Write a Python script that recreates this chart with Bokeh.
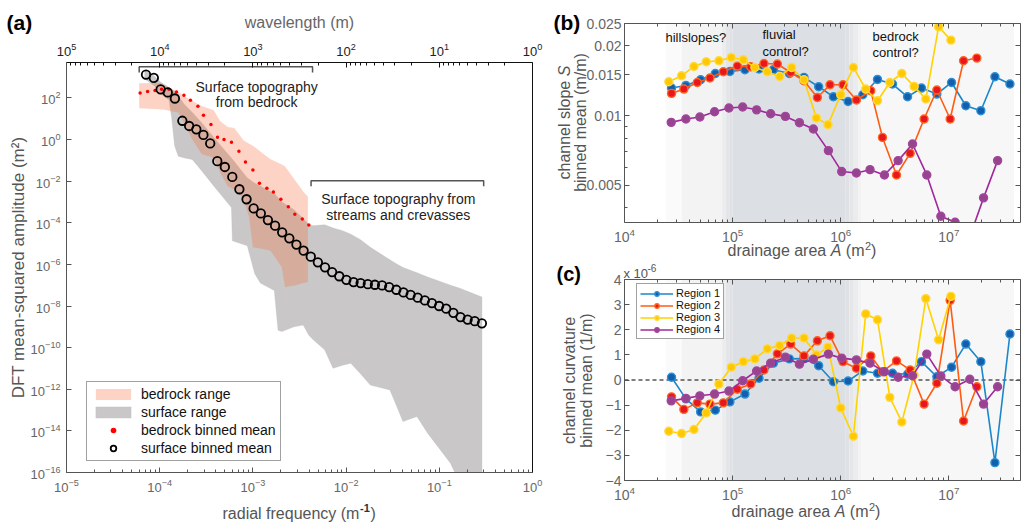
from math import pi, log10
from bokeh.plotting import figure
from bokeh.models import (Range1d, LogScale, LogAxis, LinearAxis, FixedTicker, Label,
                          Legend, LegendItem, CustomJSTickFormatter)
from bokeh.layouts import row, column
from bokeh.embed import file_html
from bokeh.resources import INLINE

FONT = "Liberation Sans"

# ---------------- Panel (a) data (log10 values) ----------------
surf_log_freq = [-4.147, -4.063, -3.990, -3.914, -3.837, -3.757, -3.684, -3.607, -3.531, -3.458,
                 -3.382, -3.301, -3.221, -3.145, -3.068, -2.992, -2.915, -2.839, -2.762, -2.686,
                 -2.609, -2.533, -2.456, -2.379, -2.303, -2.226, -2.150, -2.073, -1.997, -1.920,
                 -1.844, -1.767, -1.691, -1.614, -1.538, -1.461, -1.385, -1.308, -1.232, -1.155,
                 -1.079, -1.002, -0.926, -0.849, -0.773, -0.696, -0.620, -0.543]
surf_log_amp = [3.12, 2.96, 2.41, 2.26, 1.97, 0.90, 0.65, 0.49, 0.22, -0.19,
                -1.04, -1.32, -1.80, -2.39, -2.87, -3.31, -3.55, -3.87, -4.14, -4.46,
                -4.75, -5.05, -5.34, -5.63, -5.90, -6.14, -6.37, -6.57, -6.74, -6.85,
                -6.90, -6.95, -6.98, -7.01, -7.09, -7.22, -7.35, -7.47, -7.60, -7.73,
                -7.86, -8.00, -8.13, -8.33, -8.53, -8.65, -8.73, -8.83]

bed_log_freq = [-4.21, -4.13, -4.05, -3.98, -3.90, -3.82, -3.74, -3.67, -3.59, -3.53,
                -3.45, -3.38, -3.31, -3.23, -3.15, -3.08, -3.00, -2.93, -2.85, -2.78,
                -2.70, -2.62, -2.55, -2.47, -2.40]
bed_log_amp = [2.23, 2.31, 2.36, 2.42, 2.41, 2.28, 2.13, 1.89, 1.60, 1.16,
               0.72, 0.11, 0.00, -0.13, -0.56, -1.08, -1.47, -2.10, -2.34, -2.52,
               -2.87, -3.23, -3.59, -3.82, -4.11]

bed_band_log_freq = [-4.22, -4.00, -3.95, -3.80, -3.74, -3.65, -3.55, -3.42, -3.35, -3.27,
                     -3.20, -3.10, -3.04, -3.00, -2.90, -2.81, -2.69, -2.655, -2.54, -2.46, -2.41]
bed_band_upper = [2.70, 2.72, 2.60, 2.28, 2.10, 1.85, 1.61, 1.40, 0.88, 0.60,
                  0.55, -0.05, -0.20, -0.30, -0.65, -0.95, -1.20, -1.30, -2.00, -2.50, -2.75]
bed_band_lower = [1.50, 1.45, 1.43, 1.30, 0.80, 0.00, -0.70, -0.88, -1.60, -2.25,
                  -2.40, -2.85, -3.75, -5.18, -5.25, -5.34, -6.14, -7.09, -7.00, -6.90, -6.85]

surf_band_log_freq = [-4.16, -4.06, -3.99, -3.90, -3.87, -3.84, -3.80, -3.74, -3.65, -3.55,
                      -3.42, -3.23, -3.22, -3.06, -2.98, -2.92, -2.77, -2.73, -2.69, -2.56,
                      -2.46, -2.40, -2.35, -2.23, -2.14, -2.04, -1.95, -1.85, -1.74, -1.53,
                      -1.47, -1.39, -1.24, -1.125, -0.88, -0.78, -0.543]
surf_band_upper = [3.30, 3.05, 2.75, 2.50, 2.40, 2.30, 2.10, 1.70, 1.30, 0.80,
                   0.10, -0.90, -0.95, -1.85, -2.10, -2.25, -2.60, -2.80, -3.00, -3.37,
                   -3.80, -4.09, -4.14, -4.10, -4.25, -4.38, -4.55, -4.80, -5.18, -5.78,
                   -5.95, -6.15, -6.40, -6.61, -7.00, -7.15, -7.57]
surf_band_lower = [2.90, 2.60, 2.20, 1.90, 1.00, -0.30, -0.80, -0.88, -0.96, -1.50,
                   -2.23, -3.27, -4.86, -5.10, -6.45, -6.90, -7.25, -9.16, -9.23, -9.00,
                   -8.91, -9.40, -9.63, -10.10, -10.99, -10.85, -10.75, -11.23, -11.80, -12.03,
                   -12.67, -13.55, -13.31, -14.11, -15.55, -16.50, -16.50]

# ---------------- Panels (b) and (c) data ----------------
region_names = ["Region 1", "Region 2", "Region 3", "Region 4"]
r1_log_area = [4.435, 4.568, 4.704, 4.840, 4.975, 5.114, 5.244, 5.377, 5.525, 5.660, 5.796, 5.932,
               6.068, 6.204, 6.340, 6.479, 6.618, 6.747, 6.889, 7.025, 7.157, 7.296, 7.426, 7.565]
r2_log_area = [4.435, 4.549, 4.673, 4.790, 4.914, 5.044, 5.167, 5.290, 5.414, 5.537, 5.660, 5.784,
               5.901, 6.021, 6.145, 6.278, 6.386, 6.516, 6.642, 6.771, 6.889, 7.012, 7.136, 7.259]
r3_log_area = [4.410, 4.528, 4.642, 4.756, 4.873, 4.988, 5.099, 5.206, 5.321, 5.435, 5.546, 5.660,
               5.775, 5.882, 6.000, 6.117, 6.231, 6.340, 6.454, 6.565, 6.679, 6.787, 6.905, 7.019]
r4_log_area = [4.432, 4.568, 4.697, 4.833, 4.966, 5.093, 5.222, 5.352, 5.488, 5.618, 5.747, 5.886,
               6.009, 6.145, 6.271, 6.404, 6.531, 6.664, 6.796, 6.926, 7.058, 7.194, 7.321, 7.451]

r1_slope = [0.01316, 0.01351, 0.01429, 0.01521, 0.01552, 0.01579, 0.01590, 0.01579, 0.01521, 0.01463,
            0.01334, 0.01207, 0.01152, 0.01232, 0.01434, 0.01370, 0.01207, 0.01316, 0.01240, 0.01391,
            0.01104, 0.01051, 0.01473, 0.01370]
r2_slope = [0.01248, 0.01303, 0.01391, 0.01454, 0.01548, 0.01637, 0.01626, 0.01680, 0.01671, 0.01537,
            0.01415, 0.01199, 0.01360, 0.01360, 0.01169, 0.01282, 0.00806, 0.00555, 0.00688, 0.00968,
            0.01291, 0.00968, 0.01726, 0.01773]
r3_slope = [0.01401, 0.01487, 0.01631, 0.01709, 0.01726, 0.01783, 0.01743, 0.01615, 0.01548, 0.01477,
            0.01615, 0.01429, 0.00977, 0.00915, 0.01232, 0.01615, 0.01303, 0.01160, 0.01391, 0.01521,
            0.01338, 0.01180, 0.02419, 0.02120]
r4_slope = [0.00936, 0.00968, 0.00987, 0.01040, 0.01080, 0.01090, 0.01060, 0.01020, 0.00993, 0.00933,
            0.00876, 0.00707, 0.00574, 0.00566, 0.00585, 0.00555, 0.00640, 0.00755, 0.00555, 0.00368,
            0.00347, 0.00300, 0.00442, 0.00640]

# curvature in units of 1e-6 1/m
r1_curv = [0.11, -0.75, -1.27, -1.20, -0.87, -0.56, 0.07, 0.67, 0.84, 0.85, 0.57, -0.07,
           -0.04, 0.36, 0.27, 0.27, 0.23, 0.73, 0.13, 0.51, 1.43, 0.73, -3.29, 1.83]
r2_curv = [-0.67, -1.17, -0.91, -0.96, -0.91, -0.37, -0.16, 0.40, 1.04, 1.43, 0.96, 1.56,
           1.76, 0.73, 0.47, 0.96, 0.33, 0.76, 0.40, -0.96, -0.13, 3.17, -1.63, -0.27]
r3_curv = [-2.04, -2.13, -1.97, -1.31, -0.16, 0.51, 0.73, 0.84, 1.24, 1.37, 1.67, 1.67,
           1.00, 1.31, -1.11, -2.24, 2.63, 2.40, -0.69, -1.67, 0.20, 3.24, 1.60, 3.33]
r4_curv = [-0.83, -0.73, -0.63, -0.56, -0.44, -0.03, 0.36, 0.67, 0.91, 0.63, 0.83, 1.03,
           0.87, 0.80, 0.67, 0.33, 0.11, 0.17, 1.03, 0.16, -0.27, 0.03, -0.96, -0.27]

# ---------------- styles ----------------
line_colors = ["#1b87c9", "#ff5b12", "#ffd200", "#a0289c"]
fill_colors = ["#135fae", "#e8161d", "#ffc800", "#97448f"]
edge_colors = ["#2a91d6", "#ff6420", "#ffd93d", "#a3459e"]
AX_GRAY = "#555555"
TXT_GRAY = "#555555"


def pw(v):
    return [10.0 ** x for x in v]


class LogMap:
    """pixel (measured in the direction of increasing data) -> data value"""
    def __init__(self, lo, hi, p_lo, p_hi):
        self.l0 = log10(lo)
        self.p0 = p_lo
        self.k = (p_hi - p_lo) / (log10(hi) - log10(lo))

    def __call__(self, p):
        return 10.0 ** (self.l0 + (p - self.p0) / self.k)


class LinMap:
    def __init__(self, lo, hi, p_lo, p_hi):
        self.v0 = lo
        self.p0 = p_lo
        self.k = (p_hi - p_lo) / (hi - lo)

    def __call__(self, p):
        return self.v0 + (p - self.p0) / self.k


def style_axis(ax, color=AX_GRAY, label_color="#666666", size="13px", standoff=5, labels=True):
    ax.axis_line_color = color
    ax.axis_line_width = 1
    ax.major_tick_line_color = color
    ax.minor_tick_line_color = color
    ax.major_tick_in = 5
    ax.major_tick_out = 0
    ax.minor_tick_in = 3
    ax.minor_tick_out = 0
    ax.major_label_text_font = FONT
    ax.major_label_text_color = label_color
    ax.major_label_text_font_size = size
    ax.major_label_standoff = standoff
    if not labels:
        ax.formatter = CustomJSTickFormatter(code="return '';")


def add_label(p, x, y, text, size="14px", color="#222222", align="left",
              baseline="middle", angle=0.0, style="normal"):
    p.add_layout(Label(x=x, y=y, text=text, text_font=FONT, text_font_size=size,
                       text_color=color, text_align=align, text_baseline=baseline,
                       angle=angle, text_font_style=style))


decade_minor = lambda lo, hi: [k * 10.0 ** e for e in range(lo, hi) for k in range(2, 10)]

# ======================= Panel (a) =======================
WA, HA = 548, 522
A_XLO, A_XHI = 1e-5, 1.0
A_YLO, A_YHI = 1e-16, 10 ** 3.7
amx = LogMap(A_XLO, A_XHI, 66, 532)
amy = LogMap(A_YLO, A_YHI, HA - 472, HA - 62)


def a_xy(px, py):
    return amx(px), amy(HA - py)


pa = figure(width=WA, height=HA, x_axis_type="log", y_axis_type="log",
            x_range=Range1d(amx(0), amx(WA)), y_range=Range1d(amy(0), amy(HA)),
            x_axis_location=None, y_axis_location=None, min_border=0,
            output_backend="svg", toolbar_location=None)
pa.grid.visible = False
pa.outline_line_color = None

sx = pw(surf_band_log_freq)
surf_patch = pa.patch(sx + sx[::-1], pw(surf_band_upper) + pw(surf_band_lower)[::-1],
                      fill_color="#c9c7c7", line_color="#bdbbbd", line_alpha=0.6, line_width=0.6)
bx = pw(bed_band_log_freq)
bed_patch = pa.patch(bx + bx[::-1], pw(bed_band_upper) + pw(bed_band_lower)[::-1],
                     fill_color="#f56e3b", fill_alpha=0.3, line_color=None)
bed_pts = pa.scatter(pw(bed_log_freq), pw(bed_log_amp), marker="circle", size=3.5,
                     fill_color="#ff0000", line_color=None)
surf_pts = pa.scatter(pw(surf_log_freq), pw(surf_log_amp), marker="circle", size=8.5,
                      fill_color=None, line_color="black", line_width=1.8)
# white mask below the axes box
pa.quad(left=[amx(0)], right=[amx(WA)], bottom=[amy(0)], top=[A_YLO], fill_color="white", line_color=None)

# brackets
br1_f = (10 ** -4.22, 10 ** -2.36)
br1_a = (10 ** 3.22, 10 ** 3.5)
br2_f = (10 ** -2.376, 10 ** -0.524)
br2_a = (10 ** -2.25, 10 ** -1.98)
for (f0, f1), (a0, a1) in ((br1_f, br1_a), (br2_f, br2_a)):
    pa.line([f0, f0, f1, f1], [a0, a1, a1, a0], line_color="#555555", line_width=1.5)

# axes
ax_b = LogAxis(fixed_location=A_YLO, bounds=(A_XLO, A_XHI),
               ticker=FixedTicker(ticks=[10.0 ** e for e in range(-5, 1)], minor_ticks=decade_minor(-5, 0)))
style_axis(ax_b, standoff=6)
pa.add_layout(ax_b, "below")
ax_l = LogAxis(fixed_location=A_XLO, bounds=(A_YLO, A_YHI),
               ticker=FixedTicker(ticks=[10.0 ** e for e in range(-16, 3, 2)]))
style_axis(ax_l, standoff=6)
pa.add_layout(ax_l, "left")
pa.extra_x_ranges = {"wl": Range1d(1.0 / amx(0), 1.0 / amx(WA))}
pa.extra_x_scales = {"wl": LogScale()}
ax_t = LogAxis(x_range_name="wl", fixed_location=A_YHI, bounds=(1.0, 1e5),
               ticker=FixedTicker(ticks=[10.0 ** e for e in range(0, 6)], minor_ticks=decade_minor(0, 5)))
style_axis(ax_t, color="#111111", label_color="#222222", standoff=7)
pa.add_layout(ax_t, "above")
ax_r = LogAxis(fixed_location=A_XHI, bounds=(A_YLO, A_YHI), ticker=FixedTicker(ticks=[]))
style_axis(ax_r, color="#111111", labels=False)
pa.add_layout(ax_r, "right")

add_label(pa, 10 ** -2.96, 10 ** 2.53, "Surface topography", align="center")
add_label(pa, 10 ** -2.96, 10 ** 1.78, "from bedrock", align="center")
add_label(pa, 10 ** -1.44, 10 ** -2.84, "Surface topography from", align="center")
add_label(pa, 10 ** -1.44, 10 ** -3.62, "streams and crevasses", align="center")

x, y = a_xy(6, 22)
add_label(pa, x, y, "(a)", size="21px", color="black", style="bold")
x, y = a_xy(299, 22)
add_label(pa, x, y, "wavelength (m)", size="16px", color="#666666", align="center")
# "radial frequency (m^-1)"
x, y = a_xy(222, 513)
add_label(pa, x, y, "radial frequency (m", size="16px", color=TXT_GRAY)
x, y = a_xy(359.5, 507)
add_label(pa, x, y, "-1", size="11px", color="#333333", style="bold")
x, y = a_xy(370, 513)
add_label(pa, x, y, ")", size="16px", color=TXT_GRAY)
x, y = a_xy(18, 267)
add_label(pa, x, y, "DFT mean-squared amplitude (m\u00b2)", size="17px", color=TXT_GRAY,
          align="center", angle=pi / 2)

leg_a = Legend(items=[LegendItem(label="bedrock range", renderers=[bed_patch]),
                      LegendItem(label="surface range", renderers=[surf_patch]),
                      LegendItem(label="bedrock binned mean", renderers=[bed_pts]),
                      LegendItem(label="surface binned mean", renderers=[surf_pts])],
               location=(86, HA - 461), label_text_font=FONT, label_text_font_size="14px",
               label_text_color="#111111", glyph_width=44, glyph_height=14, label_height=14,
               spacing=2, padding=4, margin=0, label_standoff=6, border_line_color="#444444",
               border_line_width=1.5, background_fill_alpha=1.0)
pa.add_layout(leg_a)

# ======================= Panels (b), (c) =======================
OFFX = 548
WB, HB = 473, 260
WC, HC = 473, 262
B_XLO, B_XHI = 1e4, 4.6e7
B_YLO, B_YHI = 0.00346, 0.025
C_YLO, C_YHI = -4, 4
bmx = LogMap(B_XLO, B_XHI, 624 - OFFX, 1020 - OFFX)
bmy = LogMap(B_YLO, B_YHI, HB - 222, HB - 23)
cmy = LinMap(C_YLO, C_YHI, HC - (480 - HB), HC - (279 - HB))


def b_xy(px, py):
    return bmx(px - OFFX), bmy(HB - py)


def c_xy(px, py):
    return bmx(px - OFFX), cmy(HC - (py - HB))


xt_major = [1e4, 1e5, 1e6, 1e7]
xt_minor = decade_minor(4, 8)
yb_major = [0.005, 0.01, 0.015, 0.02, 0.025]
yb_minor = [0.004, 0.006, 0.007, 0.008, 0.009]
yc_major = [-4, -3, -2, -1, 0, 1, 2, 3, 4]

# background shading (edges in drainage area, colours)
band_edges = [2.4e4, 3.4e4, 8.0e4, 8.6e4, 9.3e4, 1.0e5, 1.1e6, 1.2e6, 1.32e6, 1.45e6, 1.55e6, 4.0e7]
band_colors = ["#fafafa", "#f3f3f3", "#ebecee", "#e3e5e8", "#dfe1e5", "#dcdfe3",
               "#dfe1e5", "#e4e6e8", "#ebecee", "#f2f2f3", "#f7f7f7"]

pb = figure(width=WB, height=HB, x_axis_type="log", y_axis_type="log",
            x_range=Range1d(bmx(0), bmx(WB)), y_range=Range1d(bmy(0), bmy(HB)),
            x_axis_location=None, y_axis_location=None, min_border=0,
            output_backend="svg", toolbar_location=None)
pc = figure(width=WC, height=HC, x_axis_type="log",
            x_range=Range1d(bmx(0), bmx(WC)), y_range=Range1d(cmy(0), cmy(HC)),
            x_axis_location=None, y_axis_location=None, min_border=0,
            output_backend="svg", toolbar_location=None)

for p, ylo, yhi in ((pb, B_YLO, B_YHI), (pc, C_YLO, C_YHI)):
    p.grid.visible = False
    p.outline_line_color = None
    p.quad(left=band_edges[:-1], right=band_edges[1:], bottom=ylo, top=yhi,
           fill_color=band_colors, line_color=None)

pc.segment(x0=[B_XLO], y0=[0], x1=[B_XHI], y1=[0], line_color="black", line_width=1.2, line_dash="4 3")

areas = [r1_log_area, r2_log_area, r3_log_area, r4_log_area]
slopes = [r1_slope, r2_slope, r3_slope, r4_slope]
curvs = [r1_curv, r2_curv, r3_curv, r4_curv]
leg_items = []
for i in range(4):
    xs_ = pw(areas[i])
    pb.line(xs_, slopes[i], line_color=line_colors[i], line_width=1.6)
    pb.scatter(xs_, slopes[i], marker="circle", size=8, fill_color=fill_colors[i],
               line_color=edge_colors[i], line_width=1.4)
    lr = pc.line(xs_, curvs[i], line_color=line_colors[i], line_width=1.6)
    sr = pc.scatter(xs_, curvs[i], marker="circle", size=8, fill_color=fill_colors[i],
                    line_color=edge_colors[i], line_width=1.4)
    leg_items.append(LegendItem(label=region_names[i], renderers=[lr, sr]))

# masks outside the axes boxes (clip overflow of lines)
pb.quad(left=[bmx(0)], right=[bmx(WB)], bottom=[bmy(0)], top=[B_YLO], fill_color="white", line_color=None)
pb.quad(left=[bmx(0)], right=[bmx(WB)], bottom=[B_YHI], top=[bmy(HB)], fill_color="white", line_color=None)

for p, ylo, yhi, mk, yticker in (
        (pb, B_YLO, B_YHI, LogAxis, FixedTicker(ticks=yb_major, minor_ticks=yb_minor)),
        (pc, C_YLO, C_YHI, LinearAxis, FixedTicker(ticks=yc_major))):
    axb = LogAxis(fixed_location=ylo, bounds=(B_XLO, B_XHI),
                  ticker=FixedTicker(ticks=xt_major, minor_ticks=xt_minor))
    style_axis(axb, size="14px", standoff=5)
    p.add_layout(axb, "below")
    axt = LogAxis(fixed_location=yhi, bounds=(B_XLO, B_XHI),
                  ticker=FixedTicker(ticks=xt_major, minor_ticks=xt_minor))
    style_axis(axt, labels=False)
    p.add_layout(axt, "above")
    axl = mk(fixed_location=B_XLO, bounds=(ylo, yhi), ticker=yticker)
    style_axis(axl, size="14px", standoff=3)
    if p is pb:
        axl.formatter = CustomJSTickFormatter(code="return String(tick);")
    p.add_layout(axl, "left")
    axr = mk(fixed_location=B_XHI, bounds=(ylo, yhi), ticker=yticker)
    style_axis(axr, labels=False)
    p.add_layout(axr, "right")

# legend of (c)
LEG_C_TOP = 289
LEG_C_H = 4 * 11 + 2 * 3
leg_c = Legend(items=leg_items, location=(636 - OFFX, HC - (LEG_C_TOP + LEG_C_H - HB)),
               label_text_font=FONT, label_text_font_size="11px", label_text_color="#111111",
               glyph_width=33, glyph_height=11, label_height=11, spacing=0, padding=3, margin=0,
               label_standoff=3, border_line_color="#444444", border_line_width=1,
               background_fill_alpha=1.0)
pc.add_layout(leg_c)

# ---- texts of panel (b)
x, y = b_xy(553, 22)
add_label(pb, x, y, "(b)", size="21px", color="black", style="bold")
for px, py, t in ((665, 37, "hillslopes?"), (762, 34, "fluvial"), (762, 51, "control?"),
                  (872, 36, "bedrock"), (872, 52, "control?")):
    x, y = b_xy(px, py)
    add_label(pb, x, y, t, size="13px", color="#111111")
x, y = b_xy(564, 179)
add_label(pb, x, y, "channel slope ", size="16px", color=TXT_GRAY, angle=pi / 2)
x, y = b_xy(564, 75.8)
add_label(pb, x, y, "S", size="16px", color=TXT_GRAY, angle=pi / 2, style="italic")
x, y = b_xy(580, 122)
add_label(pb, x, y, "binned mean (m/m)", size="16px", color=TXT_GRAY, align="center", angle=pi / 2)


def area_label(p, to_xy, x0, py):
    for dx, dy, t, sz, st in ((0, 0, "drainage area", "16px", "normal"),
                              (103.2, 0, "A", "16px", "italic"),
                              (118.3, 0, "(m", "16px", "normal"),
                              (137.5, -5, "2", "11px", "normal"),
                              (143.6, 0, ")", "16px", "normal")):
        x, y = to_xy(x0 + dx, py + dy)
        add_label(p, x, y, t, size=sz, color=TXT_GRAY, style=st)


area_label(pb, b_xy, 727, 250)

# ---- texts of panel (c)
x, y = c_xy(556, 273)
add_label(pc, x, y, "(c)", size="20px", color="black", style="bold")
x, y = c_xy(623, 273)
add_label(pc, x, y, "x 10", size="13px", color=TXT_GRAY)
x, y = c_xy(647, 267)
add_label(pc, x, y, "-6", size="10px", color=TXT_GRAY)
x, y = c_xy(569, 380)
add_label(pc, x, y, "channel curvature", size="16px", color=TXT_GRAY, align="center", angle=pi / 2)
x, y = c_xy(586, 380)
add_label(pc, x, y, "binned mean (1/m)", size="16px", color=TXT_GRAY, align="center", angle=pi / 2)
area_label(pc, c_xy, 731, 511)

layout = row(pa, column(pb, pc))
open("out.html", "w").write(file_html(layout, INLINE))
